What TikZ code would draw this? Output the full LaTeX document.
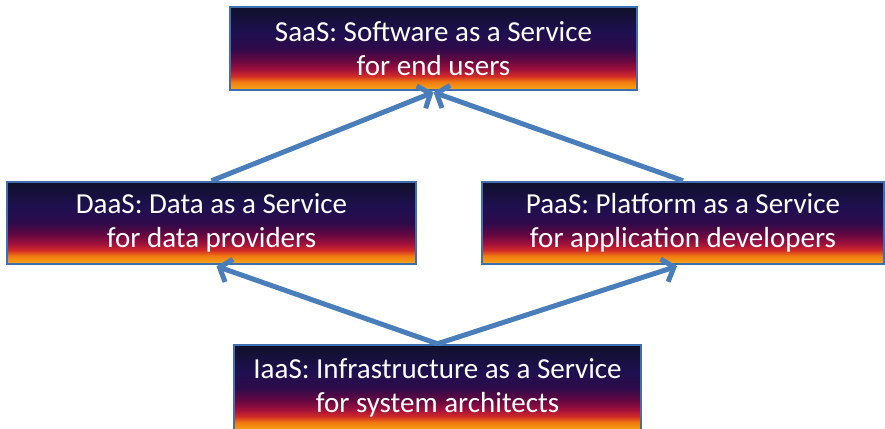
\documentclass[tikz,border=0pt]{standalone}
\usepackage{fontspec}
\setmainfont{Carlito}
\usetikzlibrary{arrows.meta}

\definecolor{duskA}{HTML}{10102A}
\definecolor{duskB}{HTML}{1E1050}
\definecolor{duskC}{HTML}{2E0A4A}
\definecolor{duskD}{HTML}{680840}
\definecolor{duskE}{HTML}{A0103C}
\definecolor{duskF}{HTML}{D02A28}
\definecolor{duskG}{HTML}{F07A10}
\definecolor{duskH}{HTML}{F8AA18}
\definecolor{frameblue}{HTML}{3F6FB0}
\definecolor{arrowblue}{HTML}{4A7EBB}

% dusk gradient: orange at the bottom, dark navy at the top
\pgfdeclareverticalshading{dusk}{100bp}{%
  color(0bp)=(duskH);
  color(25bp)=(duskH);
  color(30bp)=(duskG);
  color(33.5bp)=(duskF);
  color(37.5bp)=(duskE);
  color(42.5bp)=(duskD);
  color(50bp)=(duskC);
  color(60bp)=(duskB);
  color(75bp)=(duskA);
  color(100bp)=(duskA)}

\tikzset{
  layer/.style={rectangle, shading=dusk, draw=frameblue, line width=2.5pt,
    text=white, align=center, inner sep=0pt,
    font=\fontsize{29}{34}\selectfont},
  uparrow/.style={draw=arrowblue, line width=5pt,
    -{Straight Barb[length=10pt,width=24pt]}}
}

\begin{document}
\begin{tikzpicture}[x=1pt,y=-1pt]
  \useasboundingbox (0,0) rectangle (885,428);
  \begin{scope}
    \clip (0,0) rectangle (885,428);

    \node[layer, minimum width=407pt, minimum height=83pt] (saas) at (433.5,48.5)
      {SaaS: Software as a Service\\for end users};
    \node[layer, minimum width=409pt, minimum height=82pt] (daas) at (211.5,223)
      {DaaS: Data as a Service\\for data providers};
    \node[layer, minimum width=402pt, minimum height=82pt] (paas) at (683,223)
      {PaaS: Platform as a Service\\for application developers};
    \node[layer, minimum width=407pt, minimum height=86pt] (iaas) at (437.5,388)
      {IaaS: Infrastructure as a Service\\for system architects};

    \draw[uparrow] (daas.north) -- ([yshift=-1pt]saas.south);
    \draw[uparrow] (paas.north) -- ([yshift=-1pt]saas.south);
    \draw[uparrow] (iaas.north) -- ([xshift=5pt,yshift=-1pt]daas.south);
    \draw[uparrow] (iaas.north) -- ([xshift=-6pt,yshift=-1pt]paas.south);
  \end{scope}
\end{tikzpicture}
\end{document}
